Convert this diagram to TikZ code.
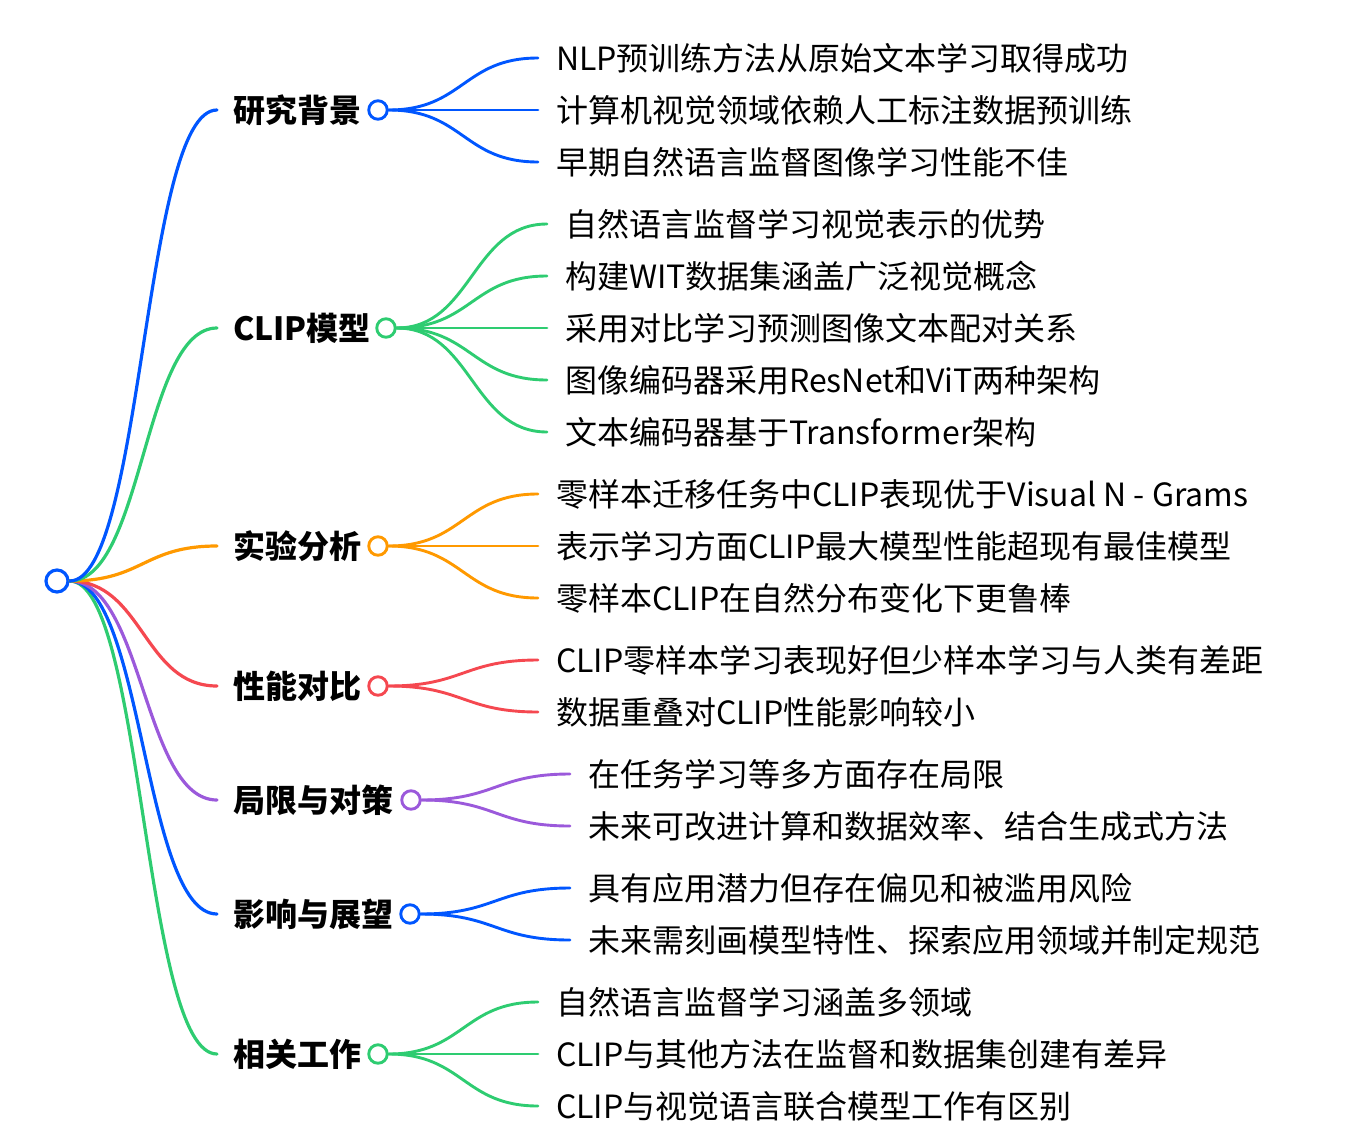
\documentclass[tikz,border=0pt]{standalone}
\usepackage{fontspec}
\setmainfont{Noto Sans CJK SC}
\usetikzlibrary{calc}
\definecolor{cblue}{RGB}{0,86,255}
\definecolor{cgreen}{RGB}{46,204,113}
\definecolor{corange}{RGB}{255,153,0}
\definecolor{cred}{RGB}{245,72,80}
\definecolor{cpurple}{RGB}{155,89,219}
\newcommand\mmlink[3]{\draw[#1] let \p1=(#2), \p2=(#3) in (\p1) .. controls ({(\x1+\x2)/2},\y1) and ({(\x1+\x2)/2},\y2) .. (\p2);}
\begin{document}
\begin{tikzpicture}[x=1pt,y=-1pt,
  every node/.style={font=\fontsize{32}{38}\selectfont, text height=28pt, text depth=4pt},
  mainlink/.style={line width=3.2pt, line cap=round},
  sublink/.style={line width=2.9pt, line cap=round},
  rootdot/.style={circle, draw=cblue, fill=white, line width=3.2pt, minimum size=22pt, inner sep=0pt, text height=, text depth=},
  dot/.style={circle, fill=white, line width=2.9pt, minimum size=18.5pt, inner sep=0pt, text height=, text depth=},
  branch/.style={anchor=west, inner xsep=16pt, inner ysep=0pt, font=\fontsize{32}{38}\selectfont\bfseries},
  leaf/.style={anchor=west, inner xsep=18pt, inner ysep=0pt}]
\useasboundingbox (0,0) rectangle (1362,1146);

\node[rootdot] (root) at (57,581) {};

% branch labels
\node[branch] (b1) at (217,110) {研究背景};
\node[branch] (b2) at (217,328) {CLIP模型};
\node[branch] (b3) at (217,546) {实验分析};
\node[branch] (b4) at (217,686) {性能对比};
\node[branch] (b5) at (217,800) {局限与对策};
\node[branch] (b6) at (217,914) {影响与展望};
\node[branch] (b7) at (217,1054) {相关工作};

% leaves
\node[leaf] (l11) at (538,58) {NLP预训练方法从原始文本学习取得成功};
\node[leaf] (l12) at (538,110) {计算机视觉领域依赖人工标注数据预训练};
\node[leaf] (l13) at (538,162) {早期自然语言监督图像学习性能不佳};

\node[leaf] (l21) at (547,224) {自然语言监督学习视觉表示的优势};
\node[leaf] (l22) at (547,276) {构建WIT数据集涵盖广泛视觉概念};
\node[leaf] (l23) at (547,328) {采用对比学习预测图像文本配对关系};
\node[leaf] (l24) at (547,380) {图像编码器采用ResNet和ViT两种架构};
\node[leaf] (l25) at (547,432) {文本编码器基于Transformer架构};

\node[leaf] (l31) at (538,494) {零样本迁移任务中CLIP表现优于Visual N - Grams};
\node[leaf] (l32) at (538,546) {表示学习方面CLIP最大模型性能超现有最佳模型};
\node[leaf] (l33) at (538,598) {零样本CLIP在自然分布变化下更鲁棒};

\node[leaf] (l41) at (538,660) {CLIP零样本学习表现好但少样本学习与人类有差距};
\node[leaf] (l42) at (538,712) {数据重叠对CLIP性能影响较小};

\node[leaf] (l51) at (570,774) {在任务学习等多方面存在局限};
\node[leaf] (l52) at (570,826) {未来可改进计算和数据效率、结合生成式方法};

\node[leaf] (l61) at (570,888) {具有应用潜力但存在偏见和被滥用风险};
\node[leaf] (l62) at (570,940) {未来需刻画模型特性、探索应用领域并制定规范};

\node[leaf] (l71) at (538,1002) {自然语言监督学习涵盖多领域};
\node[leaf] (l72) at (538,1054) {CLIP与其他方法在监督和数据集创建有差异};
\node[leaf] (l73) at (538,1106) {CLIP与视觉语言联合模型工作有区别};

% main links
\mmlink{mainlink,cgreen}{root.east}{b7.west}
\mmlink{mainlink,cblue}{root.east}{b6.west}
\mmlink{mainlink,cpurple}{root.east}{b5.west}
\mmlink{mainlink,cred}{root.east}{b4.west}
\mmlink{mainlink,corange}{root.east}{b3.west}
\mmlink{mainlink,cgreen}{root.east}{b2.west}
\mmlink{mainlink,cblue}{root.east}{b1.west}

% branch dots
\node[dot, draw=cblue] (d1) at (378,110) {};
\node[dot, draw=cgreen] (d2) at (386,328) {};
\node[dot, draw=corange] (d3) at (378,546) {};
\node[dot, draw=cred] (d4) at (378,686) {};
\node[dot, draw=cpurple] (d5) at (411,800) {};
\node[dot, draw=cblue] (d6) at (410,914) {};
\node[dot, draw=cgreen] (d7) at (378,1054) {};

% sub links
\mmlink{sublink,cblue}{d1.east}{l11.west}
\mmlink{sublink,cblue}{d1.east}{l12.west}
\mmlink{sublink,cblue}{d1.east}{l13.west}
\mmlink{sublink,cgreen}{d2.east}{l21.west}
\mmlink{sublink,cgreen}{d2.east}{l22.west}
\mmlink{sublink,cgreen}{d2.east}{l23.west}
\mmlink{sublink,cgreen}{d2.east}{l24.west}
\mmlink{sublink,cgreen}{d2.east}{l25.west}
\mmlink{sublink,corange}{d3.east}{l31.west}
\mmlink{sublink,corange}{d3.east}{l32.west}
\mmlink{sublink,corange}{d3.east}{l33.west}
\mmlink{sublink,cred}{d4.east}{l41.west}
\mmlink{sublink,cred}{d4.east}{l42.west}
\mmlink{sublink,cpurple}{d5.east}{l51.west}
\mmlink{sublink,cpurple}{d5.east}{l52.west}
\mmlink{sublink,cblue}{d6.east}{l61.west}
\mmlink{sublink,cblue}{d6.east}{l62.west}
\mmlink{sublink,cgreen}{d7.east}{l71.west}
\mmlink{sublink,cgreen}{d7.east}{l72.west}
\mmlink{sublink,cgreen}{d7.east}{l73.west}
\end{tikzpicture}
\end{document}
